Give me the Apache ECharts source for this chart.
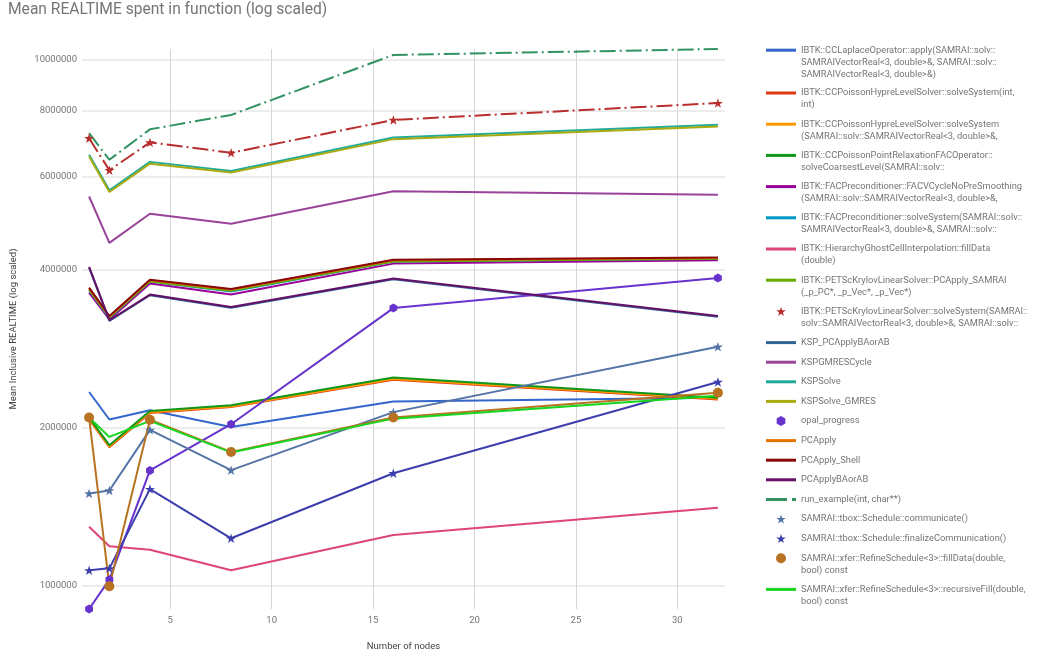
<!DOCTYPE html>
<html>
<head>
<meta charset="utf-8">
<title>Mean REALTIME spent in function</title>
<script src="https://cdn.jsdelivr.net/npm/echarts@6/dist/echarts.min.js"></script>
<style>
  html, body { margin: 0; padding: 0; background: #ffffff; }
  #chart { width: 1037px; height: 657px; }
</style>
</head>
<body>
<div id="chart"></div>
<script>
// Node counts on the x axis
const nodes = [1, 2, 4, 8, 16, 32];
const xTickValues = [5, 10, 15, 20, 25, 30];
const yTickValues = [1000000, 2000000, 4000000, 6000000, 8000000, 10000000];

// Mean inclusive REALTIME per function, one value per node count
const ccLaplaceApply       = [2337000, 2072000, 2158000, 2006000, 2241000, 2280000];
const hypreSolveInt        = [2072000, 1836000, 2133000, 2188000, 2466000, 2262000];
const hypreSolveVec        = [2078000, 1842000, 2139000, 2194000, 2474000, 2268000];
const pointRelaxCoarsest   = [2090000, 1852000, 2150000, 2206000, 2490000, 2280000];
const facVCycleNoPreSmooth = [3610000, 3210000, 3760000, 3580000, 4100000, 4160000];
const facSolveSystem       = [3650000, 3230000, 3790000, 3630000, 4140000, 4190000];
const ghostCellFillData    = [1296000, 1190000, 1172000, 1071000, 1250000, 1408000];
const pcApplySamrai        = [3660000, 3240000, 3790000, 3640000, 4140000, 4190000];
const petscSolveSystem     = [7100000, 6170000, 6970000, 6660000, 7690000, 8280000];
const kspPcApplyBAorAB     = [4030000, 3190000, 3570000, 3380000, 3830000, 3250000];
const kspGmresCycle        = [5500000, 4490000, 5100000, 4880000, 5630000, 5540000];
const kspSolve             = [6600000, 5650000, 6400000, 6150000, 7120000, 7530000];
const kspSolveGmres        = [6555000, 5610000, 6350000, 6110000, 7070000, 7470000];
const opalProgress         = [904000, 1028000, 1658000, 2030000, 3375000, 3850000];
const pcApply              = [3680000, 3250000, 3810000, 3660000, 4160000, 4200000];
const pcApplyShell         = [3690000, 3260000, 3820000, 3670000, 4170000, 4210000];
const pcApplyBAorAB        = [4040000, 3200000, 3580000, 3390000, 3840000, 3260000];
const runExample           = [7260000, 6460000, 7380000, 7860000, 10220000, 10490000];
const scheduleCommunicate  = [1499000, 1519000, 1980000, 1660000, 2140000, 2850000];
const scheduleFinalize     = [1071000, 1080000, 1528000, 1232000, 1638000, 2442000];
const refineFillData       = [2090000, 999000, 2070000, 1798000, 2090000, 2330000];
const refineRecursiveFill  = [2090000, 1920000, 2060000, 1794000, 2080000, 2300000];

// Legend text, already wrapped into lines
const seriesLabels = [
  ['IBTK::CCLaplaceOperator::apply(SAMRAI::solv::', 'SAMRAIVectorReal<3, double>&, SAMRAI::solv::', 'SAMRAIVectorReal<3, double>&)'],
  ['IBTK::CCPoissonHypreLevelSolver::solveSystem(int,', 'int)'],
  ['IBTK::CCPoissonHypreLevelSolver::solveSystem', '(SAMRAI::solv::SAMRAIVectorReal<3, double>&,'],
  ['IBTK::CCPoissonPointRelaxationFACOperator::', 'solveCoarsestLevel(SAMRAI::solv::'],
  ['IBTK::FACPreconditioner::FACVCycleNoPreSmoothing', '(SAMRAI::solv::SAMRAIVectorReal<3, double>&,'],
  ['IBTK::FACPreconditioner::solveSystem(SAMRAI::solv::', 'SAMRAIVectorReal<3, double>&, SAMRAI::solv::'],
  ['IBTK::HierarchyGhostCellInterpolation::fillData', '(double)'],
  ['IBTK::PETScKrylovLinearSolver::PCApply_SAMRAI', '(_p_PC*, _p_Vec*, _p_Vec*)'],
  ['IBTK::PETScKrylovLinearSolver::solveSystem(SAMRAI::', 'solv::SAMRAIVectorReal<3, double>&, SAMRAI::solv::'],
  ['KSP_PCApplyBAorAB'],
  ['KSPGMRESCycle'],
  ['KSPSolve'],
  ['KSPSolve_GMRES'],
  ['opal_progress'],
  ['PCApply'],
  ['PCApply_Shell'],
  ['PCApplyBAorAB'],
  ['run_example(int, char**)'],
  ['SAMRAI::tbox::Schedule::communicate()'],
  ['SAMRAI::tbox::Schedule::finalizeCommunication()'],
  ['SAMRAI::xfer::RefineSchedule<3>::fillData(double,', 'bool) const'],
  ['SAMRAI::xfer::RefineSchedule<3>::recursiveFill(double,', 'bool) const']
];

const seriesValues = [
  ccLaplaceApply, hypreSolveInt, hypreSolveVec, pointRelaxCoarsest,
  facVCycleNoPreSmooth, facSolveSystem, ghostCellFillData, pcApplySamrai,
  petscSolveSystem, kspPcApplyBAorAB, kspGmresCycle, kspSolve, kspSolveGmres,
  opalProgress, pcApply, pcApplyShell, pcApplyBAorAB, runExample,
  scheduleCommunicate, scheduleFinalize, refineFillData, refineRecursiveFill
];

// Drawing style of each series: plain line, star markers, hexagon markers, round markers
const seriesMarks = [
  'line', 'line', 'line', 'line', 'line', 'line', 'line', 'line',
  'star', 'line', 'line', 'line', 'line', 'hex', 'line', 'line', 'line', 'line',
  'star', 'star', 'dot', 'line'
];
const dashedSeries = [8, 17];

const palette = [
  '#3366cc', '#dc3912', '#ff9900', '#109618', '#990099', '#0099c6', '#dd4477', '#66aa00',
  '#b82e2e', '#316395', '#994499', '#22aa99', '#aaaa11', '#6633cc', '#e67300', '#8b0707',
  '#651067', '#329262', '#5574a6', '#3b3eac', '#b77322', '#16d620'
];

const FONT = 'Roboto, "Noto Sans", Arial, sans-serif';
const GREY = '#757575';
const STAR = 'path://M50,0L61.8,35.3L99,35.3L69,57.3L80.4,92.7L50,70.9L19.6,92.7L31,57.3L1,35.3L38.2,35.3Z';
const HEX = 'path://M50,0L93.3,25L93.3,75L50,100L6.7,75L6.7,25Z';
const DASH_DOT_ICON = 'path://M0,0H21V3H0ZM26,0H30V3H26Z';

const seriesNames = seriesLabels.map(lines => lines.join(' '));

const markerSymbol = { star: STAR, hex: HEX, dot: 'circle' };
const markerSize = { star: 10, hex: 9, dot: 10 };

const series = seriesValues.map((values, i) => {
  const mark = seriesMarks[i];
  const dashed = dashedSeries.indexOf(i) >= 0;
  return {
    type: 'line',
    name: seriesNames[i],
    data: nodes.map((n, j) => [n, values[j]]),
    color: palette[i],
    symbol: mark === 'line' ? 'none' : markerSymbol[mark],
    symbolSize: mark === 'line' ? 0 : markerSize[mark],
    symbolKeepAspect: true,
    showSymbol: mark !== 'line',
    lineStyle: { width: 2, type: dashed ? [16, 4, 2, 4] : 'solid' },
    itemStyle: { color: palette[i], borderWidth: 0 },
    emphasis: { disabled: true },
    clip: true,
    animation: false
  };
});

// Legend: one block per series so that wrapped entries keep their icon beside the first line.
// Blank lines put in front of the text keep its first line level with the icon.
const LEGEND_LINE = 12;     // line height inside an entry
const LEGEND_STEP = 11.6;   // vertical advance per text line between entries
const LEGEND_GAP = 8;
const ICON_X = 766;         // left edge of the 30px icon slot
const ICON_W = 30;
const legends = [];
let firstLineY = 50.2;
seriesLabels.forEach((lines, i) => {
  const n = lines.length;
  const mark = seriesMarks[i];
  const dashed = dashedSeries.indexOf(i) >= 0;
  let icon = 'rect';
  let itemHeight = 3;
  let drawnWidth = ICON_W;           // width the icon really covers inside its slot
  if (mark === 'star') { icon = STAR; itemHeight = 9; drawnWidth = 9 * 98 / 92.7; }
  else if (mark === 'hex') { icon = HEX; itemHeight = 10; drawnWidth = 8.66; }
  else if (mark === 'dot') { icon = 'circle'; itemHeight = 10; drawnWidth = 10; }
  else if (dashed) { icon = DASH_DOT_ICON; }
  const text = '\n'.repeat(n - 1) + lines.join('\n');
  const blockHalf = LEGEND_LINE * (2 * n - 1) / 2;
  const top = Math.min(0, itemHeight / 2 - blockHalf);
  legends.push({
    data: [{ name: seriesNames[i], icon: icon }],
    left: ICON_X + (ICON_W - drawnWidth) / 2,
    top: firstLineY - itemHeight / 2 + top,
    padding: 0,
    orient: 'vertical',
    itemWidth: ICON_W,
    itemHeight: itemHeight,
    symbolKeepAspect: true,
    formatter: () => text,
    textStyle: {
      fontFamily: FONT,
      fontSize: 9.3,
      color: GREY,
      lineHeight: LEGEND_LINE
    }
  });
  firstLineY += LEGEND_STEP * n + LEGEND_GAP;
});

const chart = echarts.init(document.getElementById('chart'), null, { renderer: 'canvas' });
chart.setOption({
  backgroundColor: '#ffffff',
  animation: false,
  title: {
    text: 'Mean REALTIME spent in function (log scaled)',
    left: 8,
    top: 2,
    padding: 0,
    textStyle: { fontFamily: FONT, fontSize: 15.6, fontWeight: 'normal', color: GREY }
  },
  legend: legends,
  grid: { left: 82, right: 312, top: 49, bottom: 48, containLabel: false },
  xAxis: {
    type: 'value',
    min: 0.65,
    max: 32.35,
    name: 'Number of nodes',
    nameLocation: 'middle',
    nameGap: 33,
    nameTextStyle: { fontFamily: FONT, fontSize: 9.5, color: '#444444' },
    axisLine: { show: false },
    axisTick: { show: false, customValues: xTickValues },
    axisLabel: { customValues: xTickValues, fontFamily: FONT, fontSize: 9.5, color: GREY, margin: 7 },
    splitLine: { show: true, lineStyle: { color: '#d6d6d6', width: 1 } }
  },
  yAxis: {
    type: 'log',
    logBase: 10,
    min: 'dataMin',
    max: 'dataMax',
    name: 'Mean Inclusive REALTIME (log scaled)',
    nameLocation: 'middle',
    nameGap: 63,
    nameTextStyle: { fontFamily: FONT, fontSize: 9.5, color: '#444444' },
    axisLine: { show: false },
    axisTick: { show: false, customValues: yTickValues },
    axisLabel: {
      customValues: yTickValues,
      formatter: v => String(Math.round(v)),
      fontFamily: FONT, fontSize: 9.5, color: GREY, margin: 5
    },
    splitLine: { show: true, lineStyle: { color: '#e6e6e6', width: 1.5 } }
  },
  series: series
});
</script>
</body>
</html>
